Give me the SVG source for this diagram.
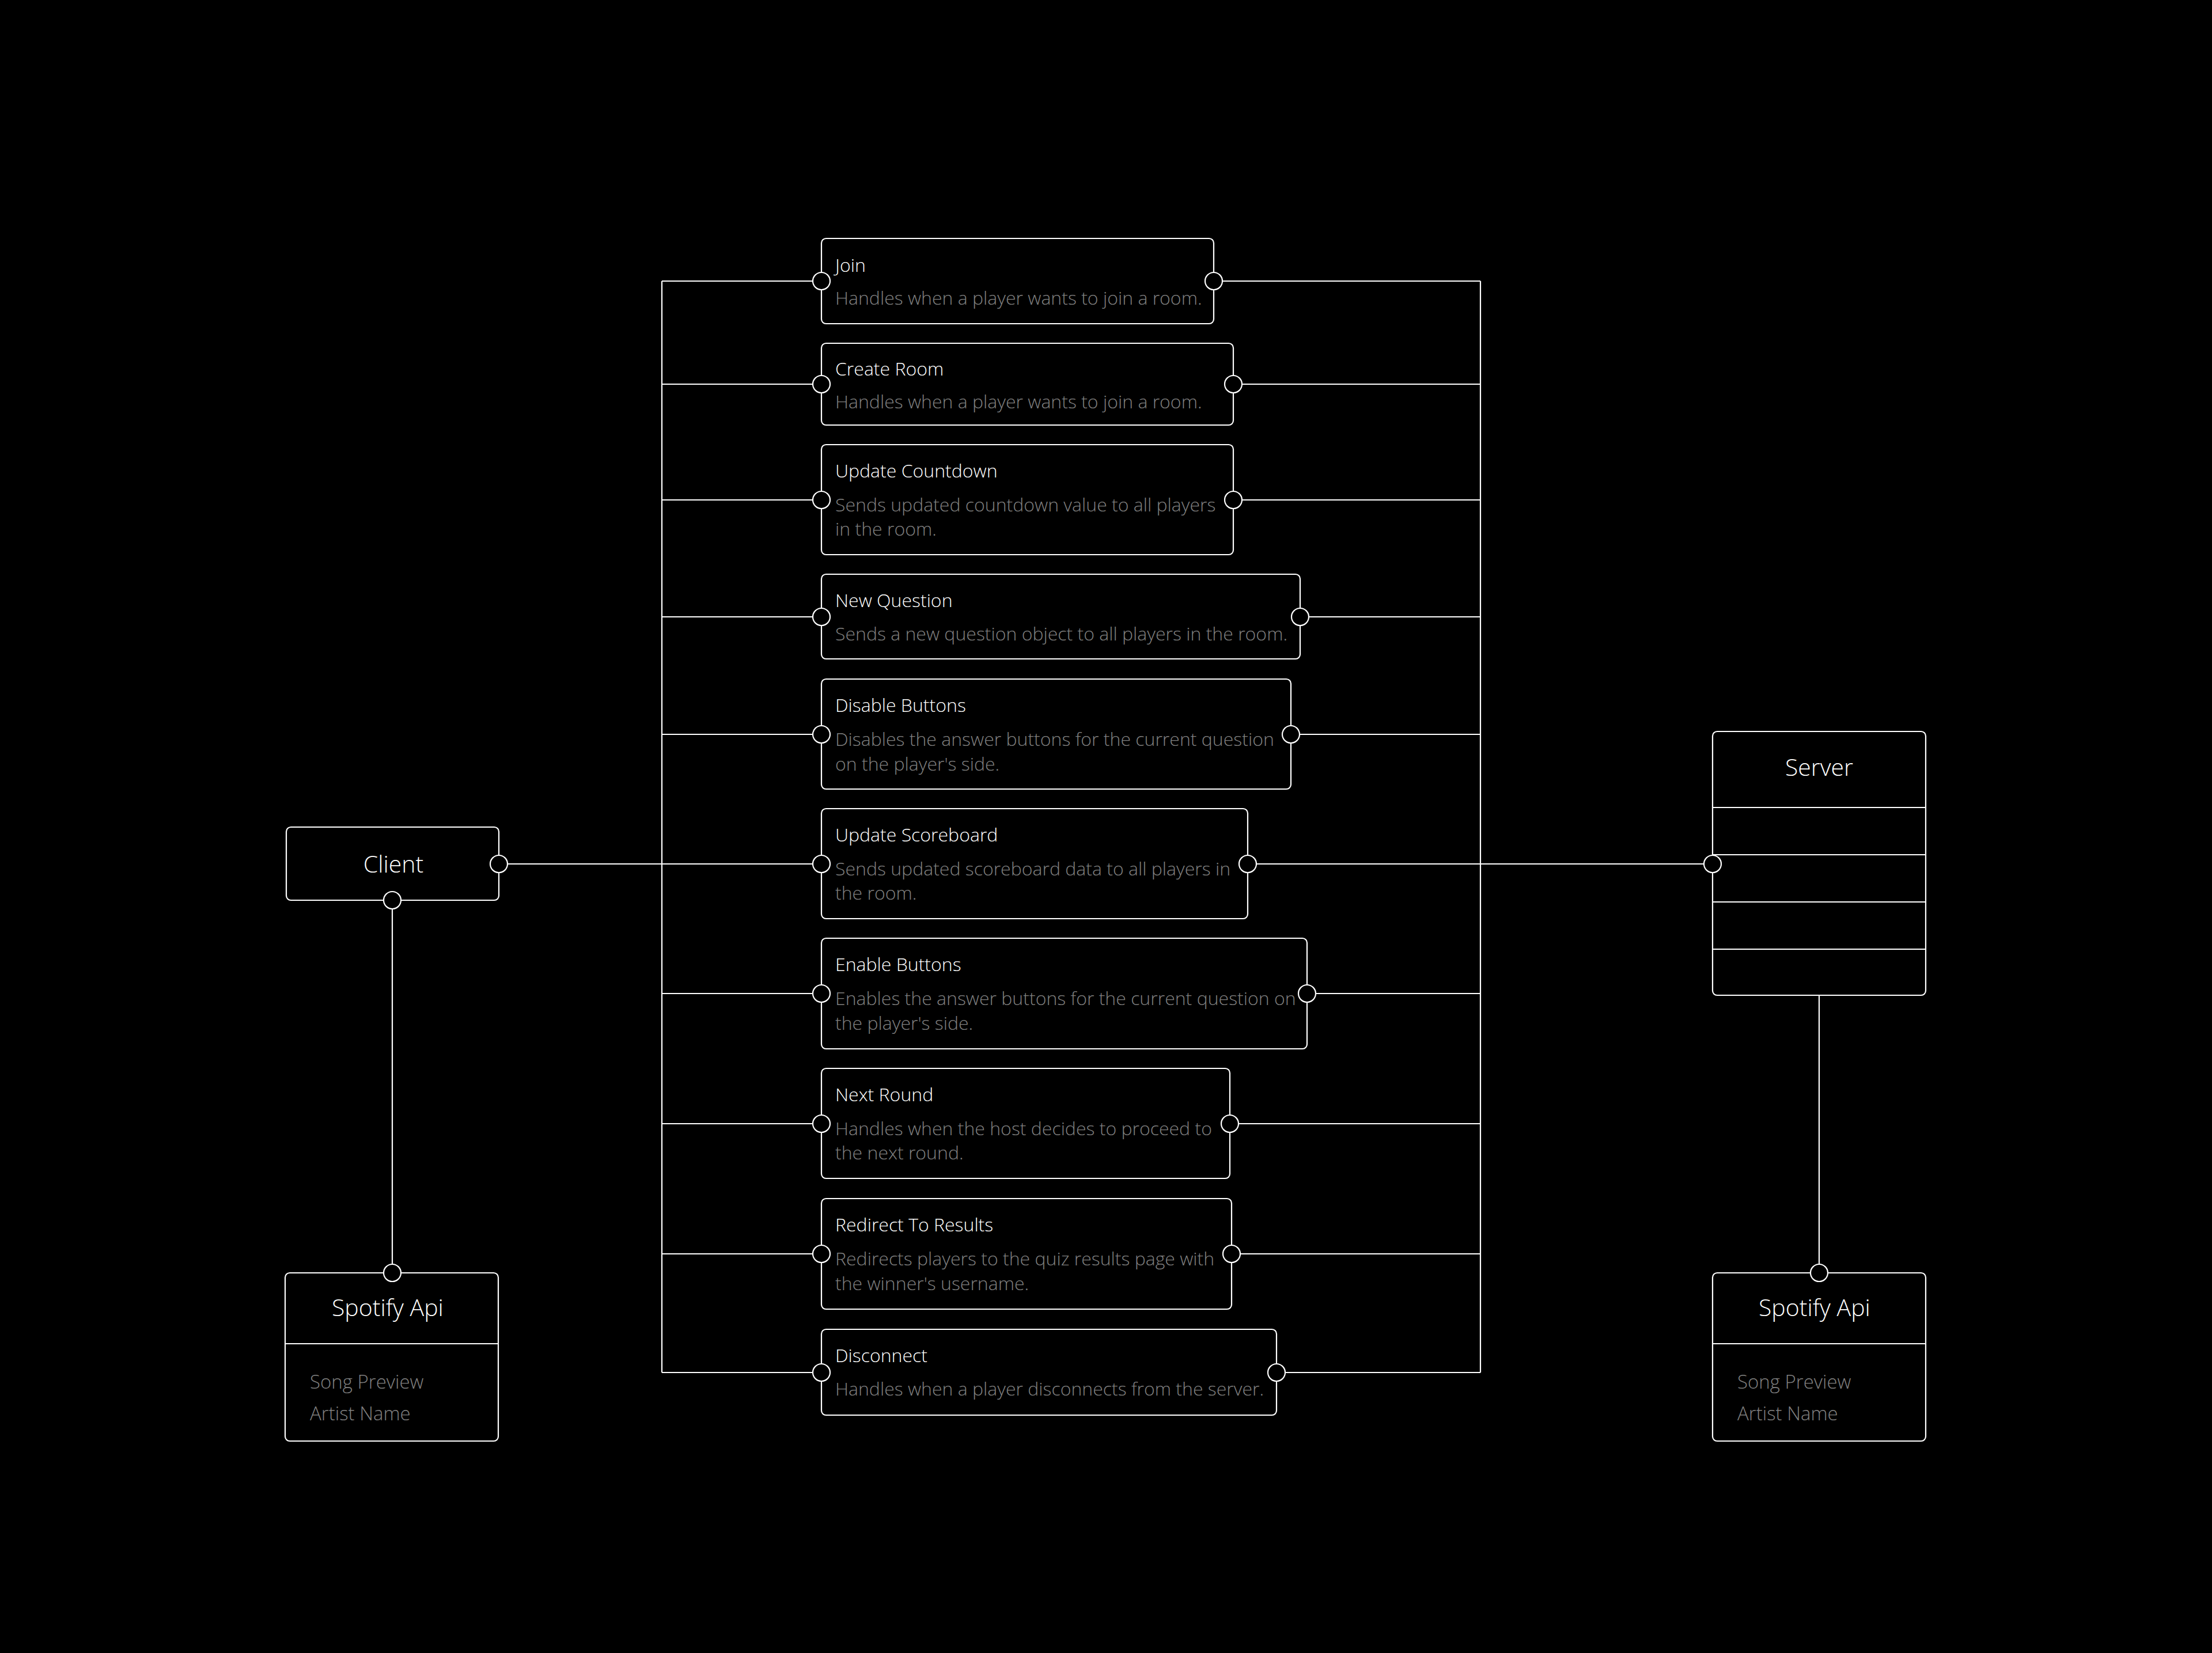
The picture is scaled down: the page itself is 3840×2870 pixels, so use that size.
<svg xmlns="http://www.w3.org/2000/svg" width="3840" height="2870" viewBox="0 0 3840 2870">
<style>
.bg{fill:#000}
.box{fill:#000;stroke:#fff;stroke-width:2.2}
.div{stroke:#fff;stroke-width:2.2}
.port{fill:#000;stroke:#fff;stroke-width:2.2}
.wire{fill:none;stroke:#fff;stroke-width:2.2}
text{font-family:"Open Sans","Noto Sans","Liberation Sans",sans-serif;font-weight:300}
.t{fill:#fff;font-size:32px}
.d{fill:#808080;font-size:32px}
.h{fill:#fff;font-size:41px}
.a{fill:#808080;font-size:33px}
.c{text-anchor:middle}
</style>
<rect class="bg" x="0" y="0" width="3840" height="2870"/>

<g id="connectors">
  <path class="wire" d="M1149,488 V2383"/>
  <path class="wire" d="M2570,488 V2383"/>
  <path class="wire" d="M1149,488 H1426 M2107,488 H2570"/>
  <path class="wire" d="M1149,667 H1426 M2141,667 H2570"/>
  <path class="wire" d="M1149,868 H1426 M2141,868 H2570"/>
  <path class="wire" d="M1149,1071 H1426 M2257,1071 H2570"/>
  <path class="wire" d="M1149,1275 H1426 M2241,1275 H2570"/>
  <path class="wire" d="M866,1500 H1426 M2166,1500 H2973"/>
  <path class="wire" d="M1149,1725 H1426 M2269,1725 H2570"/>
  <path class="wire" d="M1149,1951 H1426 M2135,1951 H2570"/>
  <path class="wire" d="M1149,2177 H1426 M2138,2177 H2570"/>
  <path class="wire" d="M1149,2383 H1426 M2216,2383 H2570"/>
  <path class="wire" d="M681,1563 V2210"/>
  <path class="wire" d="M3158,1728 V2211"/>
</g>

<g id="client">
  <rect class="box" x="497" y="1436" width="369" height="127" rx="8"/>
  <text class="h c" x="683" y="1515">Client</text>
  <circle class="port" cx="866" cy="1500" r="15"/>
  <circle class="port" cx="681" cy="1563" r="15"/>
</g>

<g id="server">
  <rect class="box" x="2973" y="1270" width="370" height="458" rx="8"/>
  <line class="div" x1="2973" y1="1402" x2="3343" y2="1402"/>
  <line class="div" x1="2973" y1="1484" x2="3343" y2="1484"/>
  <line class="div" x1="2973" y1="1566" x2="3343" y2="1566"/>
  <line class="div" x1="2973" y1="1648" x2="3343" y2="1648"/>
  <text class="h c" x="3158" y="1347">Server</text>
  <circle class="port" cx="2973" cy="1500" r="15"/>
</g>

<g id="spotify-client">
  <rect class="box" x="495" y="2210" width="370" height="292" rx="8"/>
  <line class="div" x1="495" y1="2333" x2="865" y2="2333"/>
  <text class="h" x="576" y="2285">Spotify Api</text>
  <text class="a" x="538" y="2411">Song Preview</text>
  <text class="a" x="538" y="2466">Artist Name</text>
  <circle class="port" cx="681" cy="2210" r="15"/>
</g>

<g id="spotify-server">
  <rect class="box" x="2973" y="2210" width="370" height="292" rx="8"/>
  <line class="div" x1="2973" y1="2333" x2="3343" y2="2333"/>
  <text class="h" x="3053" y="2285">Spotify Api</text>
  <text class="a" x="3016" y="2411">Song Preview</text>
  <text class="a" x="3016" y="2466">Artist Name</text>
  <circle class="port" cx="3158" cy="2210" r="15"/>
</g>

<g id="join">
  <rect class="box" x="1426" y="414" width="681" height="148" rx="8"/>
  <text class="t" x="1450" y="472">Join</text>
  <text class="d" x="1450" y="529">Handles when a player wants to join a room.</text>
  <circle class="port" cx="1426" cy="488" r="15"/>
  <circle class="port" cx="2107" cy="488" r="15"/>
</g>

<g id="create-room">
  <rect class="box" x="1426" y="596" width="715" height="142" rx="8"/>
  <text class="t" x="1450" y="652">Create Room</text>
  <text class="d" x="1450" y="709">Handles when a player wants to join a room.</text>
  <circle class="port" cx="1426" cy="667" r="15"/>
  <circle class="port" cx="2141" cy="667" r="15"/>
</g>

<g id="update-countdown">
  <rect class="box" x="1426" y="772" width="715" height="191" rx="8"/>
  <text class="t" x="1450" y="829">Update Countdown</text>
  <text class="d" x="1450" y="888">Sends updated countdown value to all players</text>
  <text class="d" x="1450" y="930">in the room.</text>
  <circle class="port" cx="1426" cy="868" r="15"/>
  <circle class="port" cx="2141" cy="868" r="15"/>
</g>

<g id="new-question">
  <rect class="box" x="1426" y="997" width="831" height="147" rx="8"/>
  <text class="t" x="1450" y="1054">New Question</text>
  <text class="d" x="1450" y="1112">Sends a new question object to all players in the room.</text>
  <circle class="port" cx="1426" cy="1071" r="15"/>
  <circle class="port" cx="2257" cy="1071" r="15"/>
</g>

<g id="disable-buttons">
  <rect class="box" x="1426" y="1179" width="815" height="191" rx="8"/>
  <text class="t" x="1450" y="1236">Disable Buttons</text>
  <text class="d" x="1450" y="1295">Disables the answer buttons for the current question</text>
  <text class="d" x="1450" y="1338">on the player's side.</text>
  <circle class="port" cx="1426" cy="1275" r="15"/>
  <circle class="port" cx="2241" cy="1275" r="15"/>
</g>

<g id="update-scoreboard">
  <rect class="box" x="1426" y="1404" width="740" height="191" rx="8"/>
  <text class="t" x="1450" y="1461">Update Scoreboard</text>
  <text class="d" x="1450" y="1520">Sends updated scoreboard data to all players in</text>
  <text class="d" x="1450" y="1562">the room.</text>
  <circle class="port" cx="1426" cy="1500" r="15"/>
  <circle class="port" cx="2166" cy="1500" r="15"/>
</g>

<g id="enable-buttons">
  <rect class="box" x="1426" y="1629" width="843" height="192" rx="8"/>
  <text class="t" x="1450" y="1686">Enable Buttons</text>
  <text class="d" x="1450" y="1745">Enables the answer buttons for the current question on</text>
  <text class="d" x="1450" y="1788">the player's side.</text>
  <circle class="port" cx="1426" cy="1725" r="15"/>
  <circle class="port" cx="2269" cy="1725" r="15"/>
</g>

<g id="next-round">
  <rect class="box" x="1426" y="1855" width="709" height="191" rx="8"/>
  <text class="t" x="1450" y="1912">Next Round</text>
  <text class="d" x="1450" y="1971">Handles when the host decides to proceed to</text>
  <text class="d" x="1450" y="2013">the next round.</text>
  <circle class="port" cx="1426" cy="1951" r="15"/>
  <circle class="port" cx="2135" cy="1951" r="15"/>
</g>

<g id="redirect-to-results">
  <rect class="box" x="1426" y="2081" width="712" height="192" rx="8"/>
  <text class="t" x="1450" y="2138">Redirect To Results</text>
  <text class="d" x="1450" y="2197">Redirects players to the quiz results page with</text>
  <text class="d" x="1450" y="2240">the winner's username.</text>
  <circle class="port" cx="1426" cy="2177" r="15"/>
  <circle class="port" cx="2138" cy="2177" r="15"/>
</g>

<g id="disconnect">
  <rect class="box" x="1426" y="2308" width="790" height="149" rx="8"/>
  <text class="t" x="1450" y="2365">Disconnect</text>
  <text class="d" x="1450" y="2423">Handles when a player disconnects from the server.</text>
  <circle class="port" cx="1426" cy="2383" r="15"/>
  <circle class="port" cx="2216" cy="2383" r="15"/>
</g>
</svg>
